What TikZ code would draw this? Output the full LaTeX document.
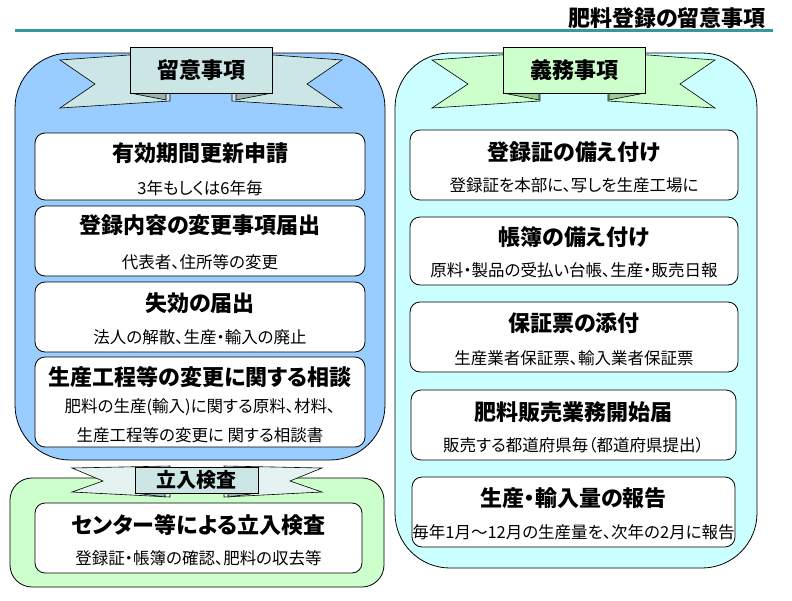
\documentclass[tikz,border=0pt]{standalone}
\usepackage{fontspec}
\setmainfont{Noto Sans CJK JP}[RawFeature={+palt}]
\usetikzlibrary{positioning}
\definecolor{panelblue}{HTML}{99CCFF}
\definecolor{panelcyan}{HTML}{CCFFFF}
\definecolor{panelgreen}{HTML}{CCFFCC}
\definecolor{ribbonteal}{HTML}{CCE6E6}
\definecolor{tailteal}{HTML}{E4F2F2}
\definecolor{foldteal}{HTML}{99B3B3}
\definecolor{ribbongreen}{HTML}{CCFFCC}
\definecolor{foldgreen}{HTML}{99CC99}
\definecolor{rulecol}{HTML}{339999}
\tikzset{
  panel/.style={draw=black, line width=0.8pt, rounded corners=55pt},
  card/.style={draw=black, fill=white, line width=0.8pt, rounded corners=10pt, minimum width=330pt, inner sep=0pt},
  band/.style={draw=black, line width=0.6pt},
  bandbox/.style={band, minimum width=142pt, minimum height=46pt, inner sep=0pt, font=\fontsize{22}{22}\selectfont\bfseries},
  heading/.style={inner sep=0pt, font=\fontsize{22}{22}\selectfont\bfseries},
  ttl/.style={inner sep=0pt, font=\fontsize{22}{22}\selectfont\bfseries},
  sub/.style={inner sep=0pt, font=\fontsize{16.5}{16.5}\selectfont}
}
\begin{document}
\begin{tikzpicture}[x=1pt, y=-1pt]
\useasboundingbox (0,0) rectangle (792,600);

% Title
\node (title) [heading, anchor=east] at (766,18) {肥料登録の留意事項};
\draw [rulecol, line width=3pt] (15,30) -- (773,30);

% Panels
\draw [panel, fill=panelblue] (15,53) rectangle (385,460);
\draw [panel, fill=panelcyan] (395,53) rectangle (757,568);
\draw [panel, rounded corners=22pt, fill=panelgreen] (10,478) rectangle (384,587);

% Ribbon: 留意事項
\filldraw [band, fill=ribbonteal] (60,60) -- (170,52) -- (170,101) -- (60,108) -- (95,84) -- cycle;
\filldraw [band, fill=ribbonteal] (342,60) -- (232,52) -- (232,101) -- (342,108) -- (307,84) -- cycle;
\filldraw [band, fill=foldteal] (130,93) -- (166,100) -- (166,93) -- cycle;
\filldraw [band, fill=foldteal] (272,93) -- (236,100) -- (236,93) -- cycle;
\node (notesTag) [bandbox, fill=ribbonteal] at (201,70) {留意事項};

% Ribbon: 義務事項
\filldraw [band, fill=ribbongreen] (432,60) -- (540,52) -- (540,101) -- (432,108) -- (468,84) -- cycle;
\filldraw [band, fill=ribbongreen] (715,60) -- (608,52) -- (608,101) -- (715,108) -- (680,84) -- cycle;
\filldraw [band, fill=foldgreen] (503,93) -- (539,100) -- (539,93) -- cycle;
\filldraw [band, fill=foldgreen] (645,93) -- (609,100) -- (609,93) -- cycle;
\node (dutyTag) [bandbox, fill=ribbongreen] at (574,70) {義務事項};

% Ribbon: 立入検査
\filldraw [band, fill=tailteal] (72,468) -- (170,466) -- (170,497) -- (72,492) -- (103,481) -- cycle;
\filldraw [band, fill=tailteal] (322,468) -- (224,466) -- (224,497) -- (322,492) -- (290,481) -- cycle;
\filldraw [band, fill=foldteal] (135,493) -- (165,497) -- (165,493) -- cycle;
\filldraw [band, fill=foldteal] (258,493) -- (228,497) -- (228,493) -- cycle;
\node (inspectTag) [bandbox, fill=ribbonteal, minimum width=123pt, minimum height=26pt, font=\fontsize{20}{20}\selectfont\bfseries] at (196.5,480) {立入検査};

% Left cards
\node (renew) [card, minimum height=67pt] at (200,166.5) {};
\node (renewT) [ttl] at (200,153) {有効期間更新申請};
\node (renewS) [sub] at (200,188) {3年もしくは6年毎};

\node (change) [card, minimum height=70pt] at (200,241) {};
\node (changeT) [ttl] at (200,225) {登録内容の変更事項届出};
\node (changeS) [sub] at (200,262) {代表者、住所等の変更};

\node (lapse) [card, minimum height=70pt] at (200,317) {};
\node (lapseT) [ttl] at (200,303) {失効の届出};
\node (lapseS) [sub] at (200,337) {法人の解散、生産・輸入の廃止};

\node (consult) [card, minimum height=90pt] at (200,402) {};
\node (consultT) [ttl] at (200,377) {生産工程等の変更に関する相談};
\node (consultS) [sub] at (200,407) {肥料の生産(輸入)に関する原料、材料、};
\node (consultU) [sub] at (200,435) {生産工程等の変更に 関する相談書};

% Bottom card
\node (visit) [card, minimum width=327pt, minimum height=70pt] at (198.5,538) {};
\node (visitT) [ttl] at (198.5,525) {センター等による立入検査};
\node (visitS) [sub] at (198.5,558) {登録証・帳簿の確認、肥料の収去等};

% Right cards
\node (cert) [card, minimum width=328pt, minimum height=70pt] at (574,165) {};
\node (certT) [ttl] at (574,152) {登録証の備え付け};
\node (certS) [sub] at (574,185) {登録証を本部に、写しを生産工場に};

\node (books) [card, minimum width=328pt, minimum height=68pt] at (574,251) {};
\node (booksT) [ttl] at (574,237) {帳簿の備え付け};
\node (booksS) [sub] at (574,270) {原料・製品の受払い台帳、生産・販売日報};

\node (slip) [card, minimum width=328pt, minimum height=70pt] at (574,337) {};
\node (slipT) [ttl] at (574,323) {保証票の添付};
\node (slipS) [sub] at (574,358) {生産業者保証票、輸入業者保証票};

\node (sales) [card, minimum width=325pt, minimum height=70pt] at (573.5,425) {};
\node (salesT) [ttl] at (573.5,412) {肥料販売業務開始届};
\node (salesS) [sub] at (573.5,445) {販売する都道府県毎（都道府県提出）};

\node (report) [card, minimum width=323pt, minimum height=70pt] at (573.5,512) {};
\node (reportT) [ttl] at (573.5,498) {生産・輸入量の報告};
\node (reportS) [sub] at (573.5,532) {毎年1月～12月の生産量を、次年の2月に報告};

\end{tikzpicture}
\end{document}
